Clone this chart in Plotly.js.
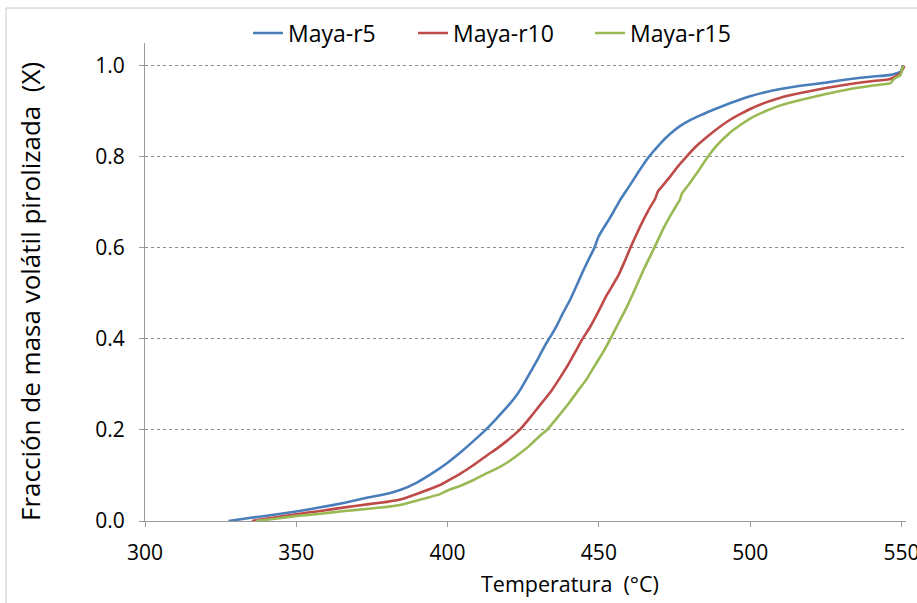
<!DOCTYPE html>
<html>
<head>
<meta charset="utf-8">
<script src="https://cdn.plot.ly/plotly-3.0.1.min.js"></script>
<style>html,body{margin:0;padding:0;background:#fff;}#chart{width:917px;height:603px;}</style>
</head>
<body>
<div id="chart"></div>
<script>
// Maya-r5
const tempR5 = [327.6,335,342,350,358,366,374,380,384.3,390,395,400,404.5,408.6,413,416,419.6,422,424,426,428,430,432.3,434,436,438,440.5,442.5,444.5,446.5,448.5,449.9,451.5,453.3,454.9,457,460,463,466.4,470,473.5,476.9,480,483.5,488,493.5,500,505,510,516.6,525,533.1,540,546.4,549.7,550.5];
const fracR5 = [0,0.007,0.013,0.021,0.030,0.040,0.052,0.060,0.068,0.085,0.105,0.128,0.152,0.176,0.203,0.224,0.250,0.269,0.288,0.311,0.334,0.358,0.387,0.405,0.428,0.455,0.486,0.515,0.545,0.573,0.600,0.625,0.643,0.662,0.680,0.705,0.735,0.766,0.799,0.827,0.850,0.868,0.880,0.891,0.904,0.918,0.933,0.942,0.949,0.956,0.963,0.971,0.976,0.980,0.987,1.0];
// Maya-r10
const tempR10 = [335.3,342,350,358,366,374,380,384.3,390,397.5,400,404.5,408.6,413,416.5,419.6,423.8,427,430.6,434.5,436.7,440,442.5,444.4,447,450,452.5,454.3,456.5,458.5,460.4,463.5,466.4,468.6,469.5,471.5,473.6,476,478.9,482,486,490,493.5,497,500,505,510,516.6,525,533.1,540,546.4,549.7,551];
const fracR10 = [0,0.007,0.015,0.022,0.030,0.037,0.042,0.047,0.060,0.079,0.088,0.105,0.123,0.144,0.160,0.176,0.200,0.225,0.255,0.288,0.310,0.345,0.375,0.398,0.425,0.462,0.495,0.515,0.540,0.570,0.600,0.645,0.683,0.708,0.724,0.740,0.757,0.778,0.800,0.822,0.845,0.866,0.882,0.895,0.905,0.919,0.930,0.940,0.951,0.960,0.966,0.971,0.984,1.0];
// Maya-r15
const tempR15 = [336.7,343,350,358,366,374,380,384.3,390,397.5,400,404.5,408.6,413,416.5,419.6,423,427,430.6,432.8,436,440,443.3,445.8,449,451.5,453.8,456.5,459.3,462,465,468.3,471.5,474.7,476.7,477.5,480,483,485.5,489,493.5,497,500,505,510,516.6,525,533.1,540,546.4,547.5,549.7,550.5];
const fracR15 = [0,0.005,0.011,0.016,0.022,0.027,0.031,0.035,0.045,0.059,0.067,0.078,0.090,0.105,0.116,0.128,0.144,0.165,0.188,0.200,0.225,0.258,0.288,0.310,0.345,0.372,0.400,0.435,0.471,0.510,0.555,0.600,0.645,0.683,0.705,0.720,0.742,0.770,0.795,0.825,0.854,0.871,0.884,0.900,0.913,0.925,0.938,0.949,0.956,0.962,0.971,0.980,1.0];

const seriesNames = ["Maya-r5","Maya-r10","Maya-r15"];
const xTicks = [300,350,400,450,500,550];
const yTicks = [0.0,0.2,0.4,0.6,0.8,1.0];
const xTitle = "Temperatura  (°C)";
const yTitle = "Fracción de masa volátil pirolizada  (X)";

const colors = ["#4A7EBB","#BE4B48","#98B954"];
const xs = [tempR5,tempR10,tempR15];
const ys = [fracR5,fracR10,fracR15];
const legendIds = ["legend","legend2","legend3"];

const traces = seriesNames.map((n,i)=>({
  x: xs[i], y: ys[i], name: n, type: "scatter", mode: "lines",
  legend: legendIds[i],
  line: {color: colors[i], width: 2.6, shape: "spline", smoothing: 0.4}
}));

const font = "Open Sans, Noto Sans, sans-serif";
const L = 145, R = 11, T = 43, B = 82;
const PW = 917 - L - R, PH = 603 - T - B;
const px = v => (v - L) / PW;
const py = v => (603 - B - v) / PH;
const legStart = [256, 421, 598];
function leg(i){
  return {orientation:"h", x:px(legStart[i]-8), xanchor:"left", y:py(33), yanchor:"middle",
          font:{family:font, size:23, color:"#000"}, itemwidth:30,
          bgcolor:"rgba(0,0,0,0)", borderwidth:0};
}
const layout = {
  width: 917, height: 603,
  margin: {l:L, r:R, t:T, b:B},
  paper_bgcolor: "#fff", plot_bgcolor: "#fff",
  showlegend: true,
  legend: leg(0), legend2: leg(1), legend3: leg(2),
  xaxis: {range:[300,551.5], tickvals:xTicks, ticktext:xTicks.map(String),
          showgrid:false, zeroline:false, showline:true, linecolor:"#9a9a9a", linewidth:1,
          ticks:"outside", ticklen:5, tickcolor:"#9a9a9a", ticklabelstandoff:8,
          ticklabeloverflow:"allow",
          tickfont:{family:font, size:21, color:"#000"}, fixedrange:true},
  yaxis: {range:[0,1.05], tickvals:yTicks, ticktext:yTicks.map(v=>v.toFixed(1)),
          showgrid:true, gridcolor:"#8c8c8c", griddash:"dot", gridwidth:1,
          zeroline:false, showline:true, linecolor:"#9a9a9a", linewidth:1,
          ticks:"outside", ticklen:5, tickcolor:"#9a9a9a", ticklabelstandoff:10,
          tickfont:{family:font, size:21, color:"#000"}, fixedrange:true},
  annotations: [
    {text:xTitle, xref:"paper", yref:"paper", x:px(570), y:py(583),
     xanchor:"center", yanchor:"middle", showarrow:false, font:{family:font, size:21.5, color:"#000"}},
    {text:yTitle, xref:"paper", yref:"paper", x:px(30), y:py(292), textangle:-90,
     xanchor:"center", yanchor:"middle", showarrow:false, font:{family:font, size:26, color:"#000"}}
  ],
  shapes: [
    {type:"rect", xref:"paper", yref:"paper", x0:px(6), x1:1.2, y0:-0.3, y1:py(8),
     line:{color:"#c8c8c8", width:1}, fillcolor:"rgba(0,0,0,0)", layer:"below"}
  ]
};
Plotly.newPlot("chart", traces, layout, {displayModeBar:false, staticPlot:true});
</script>
</body>
</html>
